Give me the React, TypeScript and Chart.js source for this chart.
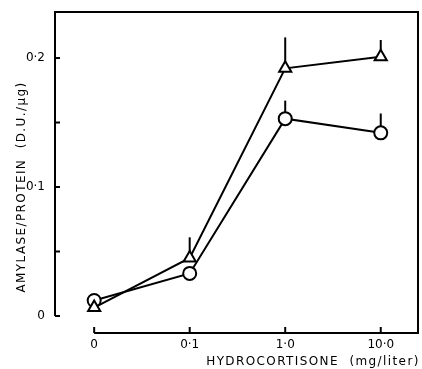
import React, { useEffect, useRef } from "react";
import { Chart, registerables } from "chart.js";

Chart.register(...registerables);

const categories = ["0", "0·1", "1·0", "10·0"];
const triangleValues = [0.0065, 0.045, 0.192, 0.201];
const triangleUpper: (number | null)[] = [null, 0.061, 0.216, 0.214];
const circleValues = [0.012, 0.033, 0.153, 0.142];
const circleUpper: (number | null)[] = [null, null, 0.167, 0.157];
const yTickValues = [0, 0.05, 0.1, 0.15, 0.2];
const yLabelValues = [0, 0.1, 0.2];
const yLabelTexts = ["0", "0·1", "0·2"];
const xTitle = "HYDROCORTISONE  (mg/liter)";
const yTitle = "AMYLASE/PROTEIN  (D.U./µg)";

const FONT = "'DejaVu Sans', sans-serif";
const LW = 2;

const framePlugin = {
  id: "frame",
  beforeDatasetsDraw(chart: any) {
    const { ctx } = chart;
    const xs = chart.scales.x;
    const ys = chart.scales.y;
    ctx.save();
    ctx.strokeStyle = "#000";
    ctx.lineWidth = LW;
    const drawErr = (vals: number[], ups: (number | null)[]) => {
      vals.forEach((v, i) => {
        const u = ups[i];
        if (u == null) return;
        const px = xs.getPixelForValue(i);
        ctx.beginPath();
        ctx.moveTo(px, ys.getPixelForValue(v));
        ctx.lineTo(px, ys.getPixelForValue(u));
        ctx.stroke();
      });
    };
    drawErr(triangleValues, triangleUpper);
    drawErr(circleValues, circleUpper);
    ctx.restore();
  },
  afterDraw(chart: any) {
    const { ctx, chartArea } = chart;
    const xs = chart.scales.x;
    const ys = chart.scales.y;
    const { left, right, top, bottom } = chartArea;
    const y0 = ys.getPixelForValue(0);
    const x0 = xs.getPixelForValue(0);
    ctx.save();
    ctx.strokeStyle = "#000";
    ctx.lineWidth = LW;
    ctx.beginPath();
    ctx.moveTo(left, y0);
    ctx.lineTo(left, top);
    ctx.lineTo(right, top);
    ctx.lineTo(right, bottom);
    ctx.lineTo(x0, bottom);
    ctx.stroke();
    yTickValues.forEach((v) => {
      const py = ys.getPixelForValue(v);
      ctx.beginPath();
      ctx.moveTo(left, py);
      ctx.lineTo(left + 5, py);
      ctx.stroke();
    });
    categories.forEach((_, i) => {
      const px = xs.getPixelForValue(i);
      ctx.beginPath();
      ctx.moveTo(px, bottom);
      ctx.lineTo(px, bottom - 6);
      ctx.stroke();
    });
    ctx.fillStyle = "#000";
    ctx.font = `12px ${FONT}`;
    ctx.textBaseline = "middle";
    ctx.textAlign = "right";
    yLabelValues.forEach((v, i) => {
      ctx.fillText(yLabelTexts[i], 45, ys.getPixelForValue(v));
    });
    ctx.textAlign = "center";
    categories.forEach((c, i) => {
      ctx.fillText(c, xs.getPixelForValue(i), 345);
    });
    (ctx as any).letterSpacing = "1.4px";
    ctx.fillText(xTitle, 313, 362);
    ctx.translate(22, 187);
    ctx.rotate(-Math.PI / 2);
    ctx.fillText(yTitle, 0, 0);
    ctx.restore();
  },
};

export default function App() {
  const ref = useRef<HTMLCanvasElement>(null);
  useEffect(() => {
    if (!ref.current) return;
    const chart = new Chart(ref.current, {
      type: "line",
      data: {
        datasets: [
          {
            data: triangleValues.map((v, i) => ({ x: i, y: v })),
            borderColor: "#000",
            borderWidth: LW,
            pointStyle: "triangle",
            pointRadius: 7,
            pointBorderWidth: LW,
            pointBackgroundColor: "#fff",
            pointBorderColor: "#000",
          },
          {
            data: circleValues.map((v, i) => ({ x: i, y: v })),
            borderColor: "#000",
            borderWidth: LW,
            pointStyle: "circle",
            pointRadius: 6.5,
            pointBorderWidth: LW,
            pointBackgroundColor: "#fff",
            pointBorderColor: "#000",
          },
        ],
      },
      options: {
        responsive: false,
        animation: false,
        layout: { autoPadding: false, padding: { top: 12, right: 4, left: 0, bottom: 0 } },
        plugins: { legend: { display: false }, tooltip: { enabled: false } },
        scales: {
          x: {
            type: "linear",
            min: -0.41,
            max: 3.39,
            grid: { display: false, drawTicks: false },
            border: { display: false },
            afterBuildTicks: (s: any) => {
              s.ticks = categories.map((_, i) => ({ value: i }));
            },
            afterFit: (s: any) => {
              s.height = 36;
            },
            ticks: { display: false },
          },
          y: {
            min: -0.0132,
            max: 0.2357,
            grid: { display: false, drawTicks: false },
            border: { display: false },
            afterBuildTicks: (s: any) => {
              s.ticks = yTickValues.map((v) => ({ value: v }));
            },
            afterFit: (s: any) => {
              s.width = 55;
            },
            ticks: { display: false },
          },
        },
      },
      plugins: [framePlugin],
    });
    return () => chart.destroy();
  }, []);
  return (
    <div style={{ position: "fixed", left: 0, top: 0, width: 422, height: 369, background: "#fff" }}>
      <canvas ref={ref} width={422} height={369} />
    </div>
  );
}
